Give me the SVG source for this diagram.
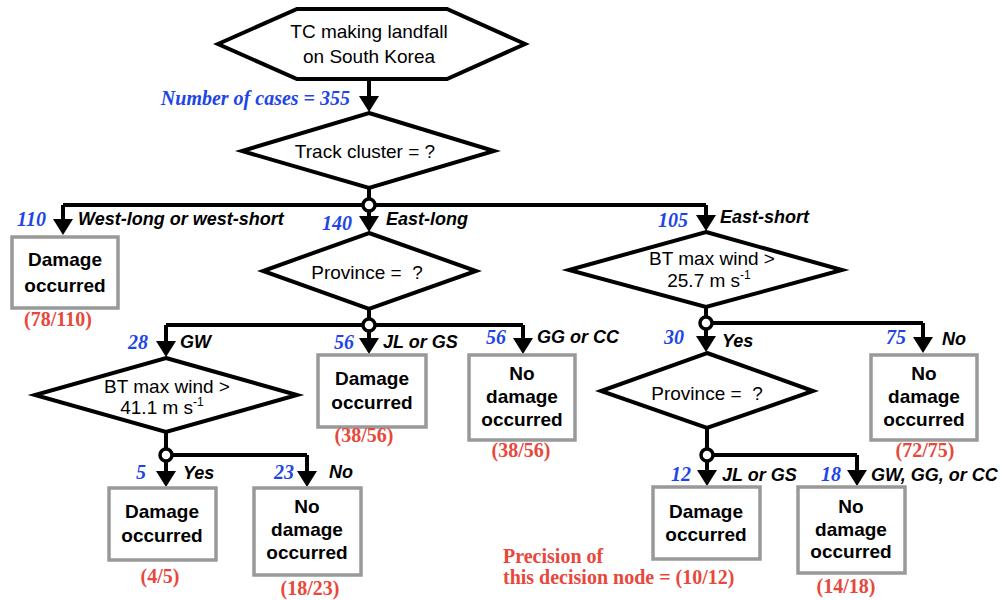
<svg xmlns="http://www.w3.org/2000/svg" width="1003" height="600" viewBox="0 0 1003 600">
<style>
.shape{fill:#fff;stroke:#000;stroke-width:4;stroke-linejoin:miter}
.box{fill:#fff;stroke:#999;stroke-width:3.5}
.conn{fill:none;stroke:#000;stroke-width:4}
.dot{fill:#fff;stroke:#000;stroke-width:3.5}
.q{font-family:"Liberation Sans",Arial,sans-serif;font-size:19px;fill:#000;text-anchor:middle}
.bt{font-family:"Liberation Sans",Arial,sans-serif;font-size:19px;font-weight:bold;fill:#000;text-anchor:middle}
.lab{font-family:"Liberation Sans",Arial,sans-serif;font-size:18px;font-weight:bold;font-style:italic;fill:#000}
.num{font-family:"Liberation Serif","Times New Roman",serif;font-size:20px;font-weight:bold;font-style:italic;fill:#1e46e6;text-anchor:end}
.red{font-family:"Liberation Serif","Times New Roman",serif;font-size:20px;font-weight:bold;fill:#e8483b;text-anchor:middle}
.left{text-anchor:start}
</style>
<defs>
<marker id="ah" markerUnits="userSpaceOnUse" markerWidth="16" markerHeight="20" viewBox="0 0 16 20" refX="1" refY="10" orient="auto">
<path d="M0,0 L16,10 L0,20 z" fill="#000"/>
</marker>
</defs>
<rect width="1003" height="600" fill="#fff"/>

<g id="connectors">
<path class="conn" d="M369,79 V97" marker-end="url(#ah)"/>
<path class="conn" d="M369,188 V205 M63,205 H706"/>
<path class="conn" d="M63,205 V220" marker-end="url(#ah)"/>
<path class="conn" d="M369,205 V217" marker-end="url(#ah)"/>
<path class="conn" d="M706,205 V216" marker-end="url(#ah)"/>
<path class="conn" d="M369,308 V325 M166,325 H523"/>
<path class="conn" d="M166,325 V342" marker-end="url(#ah)"/>
<path class="conn" d="M369,325 V339" marker-end="url(#ah)"/>
<path class="conn" d="M523,325 V339" marker-end="url(#ah)"/>
<path class="conn" d="M706,307 V323 H923"/>
<path class="conn" d="M706,323 V337" marker-end="url(#ah)"/>
<path class="conn" d="M923,323 V338" marker-end="url(#ah)"/>
<path class="conn" d="M707,428 V455 H857"/>
<path class="conn" d="M707,455 V471" marker-end="url(#ah)"/>
<path class="conn" d="M857,455 V471" marker-end="url(#ah)"/>
<path class="conn" d="M166,432 V455 H307"/>
<path class="conn" d="M166,455 V472" marker-end="url(#ah)"/>
<path class="conn" d="M307,455 V472" marker-end="url(#ah)"/>
<circle class="dot" cx="369" cy="205" r="6"/>
<circle class="dot" cx="369" cy="325" r="6"/>
<circle class="dot" cx="706" cy="323" r="6"/>
<circle class="dot" cx="707" cy="455" r="6"/>
<circle class="dot" cx="166" cy="455" r="6"/>
</g>

<g id="start">
<polygon class="shape" points="218,44 297,9 447,9 525,44 447,79 297,79" stroke-width="4.5"/>
<text class="q" x="369" y="38">TC making landfall</text>
<text class="q" x="369" y="63">on South Korea</text>
</g>
<text class="num" x="350" y="105">Number of cases = 355</text>

<g id="track">
<polygon class="shape" points="369,113 494,151 369,188 242,151"/>
<text class="q" x="365" y="158">Track cluster = ?</text>
</g>

<g id="leaf-west">
<rect class="box" x="12" y="237" width="106" height="71"/>
<text class="bt" x="65" y="266">Damage</text>
<text class="bt" x="65" y="292">occurred</text>
<text class="red" x="58" y="326">(78/110)</text>
</g>
<text class="num" x="46" y="226">110</text>
<text class="lab" x="78" y="225">West-long or west-short</text>

<text class="num" x="352" y="230">140</text>
<text class="lab" x="386" y="225">East-long</text>
<g id="province1">
<polygon class="shape" points="369,233 476,271 369,309 263,271"/>
<text class="q" x="367" y="279">Province =&#160; ?</text>
</g>

<text class="num" x="688" y="227">105</text>
<text class="lab" x="720" y="223">East-short</text>
<g id="wind1">
<polygon class="shape" points="706,232 842,270 706,307 569,270"/>
<text class="q" x="712" y="265">BT max wind &gt;</text>
<text class="q" x="709" y="287">25.7 m s<tspan font-size="12" dy="-8">-1</tspan></text>
</g>

<text class="num" x="148" y="349">28</text>
<text class="lab" x="180" y="348">GW</text>
<g id="wind2">
<polygon class="shape" points="166,358 297,395 166,432 35,395"/>
<text class="q" x="167" y="393">BT max wind &gt;</text>
<text class="q" x="162" y="414">41.1 m s<tspan font-size="12" dy="-8">-1</tspan></text>
</g>

<text class="num" x="354" y="349">56</text>
<text class="lab" x="383" y="348">JL or GS</text>
<g id="leaf-jlgs1">
<rect class="box" x="318" y="355" width="108" height="72"/>
<text class="bt" x="372" y="385">Damage</text>
<text class="bt" x="372" y="409">occurred</text>
<text class="red" x="364" y="442">(38/56)</text>
</g>

<text class="num" x="506" y="344">56</text>
<text class="lab" x="537" y="343">GG or CC</text>
<g id="leaf-ggcc">
<rect class="box" x="469" y="355" width="106" height="85"/>
<text class="bt" x="522" y="380">No</text>
<text class="bt" x="522" y="403">damage</text>
<text class="bt" x="522" y="426">occurred</text>
<text class="red" x="521" y="457">(38/56)</text>
</g>

<text class="num" x="684" y="344">30</text>
<text class="lab" x="722" y="347">Yes</text>
<g id="province2">
<polygon class="shape" points="707,353 813,391 707,428 601,391"/>
<text class="q" x="707" y="400">Province =&#160; ?</text>
</g>

<text class="num" x="906" y="344">75</text>
<text class="lab" x="942" y="345">No</text>
<g id="leaf-no75">
<rect class="box" x="871" y="355" width="106" height="85"/>
<text class="bt" x="924" y="380">No</text>
<text class="bt" x="924" y="403">damage</text>
<text class="bt" x="924" y="426">occurred</text>
<text class="red" x="925" y="457">(72/75)</text>
</g>

<text class="num" x="146" y="479">5</text>
<text class="lab" x="183" y="479">Yes</text>
<g id="leaf-yes5">
<rect class="box" x="109" y="488" width="107" height="72"/>
<text class="bt" x="162" y="518">Damage</text>
<text class="bt" x="162" y="542">occurred</text>
<text class="red" x="160" y="583">(4/5)</text>
</g>

<text class="num" x="294" y="479">23</text>
<text class="lab" x="329" y="478">No</text>
<g id="leaf-no23">
<rect class="box" x="254" y="488" width="107" height="87"/>
<text class="bt" x="307" y="513">No</text>
<text class="bt" x="307" y="536">damage</text>
<text class="bt" x="307" y="559">occurred</text>
<text class="red" x="310" y="595">(18/23)</text>
</g>

<text class="num" x="691" y="481">12</text>
<text class="lab" x="722" y="481">JL or GS</text>
<g id="leaf-jlgs2">
<rect class="box" x="653" y="487" width="107" height="72"/>
<text class="bt" x="706" y="518">Damage</text>
<text class="bt" x="706" y="541">occurred</text>
</g>

<text class="num" x="841" y="481">18</text>
<text class="lab" x="871" y="481">GW, GG, or CC</text>
<g id="leaf-no18">
<rect class="box" x="798" y="487" width="107" height="86"/>
<text class="bt" x="851" y="513">No</text>
<text class="bt" x="851" y="536">damage</text>
<text class="bt" x="851" y="558">occurred</text>
<text class="red" x="846" y="593">(14/18)</text>
</g>

<text class="red left" x="503" y="563">Precision of</text>
<text class="red left" x="503" y="584">this decision node = (10/12)</text>
</svg>
